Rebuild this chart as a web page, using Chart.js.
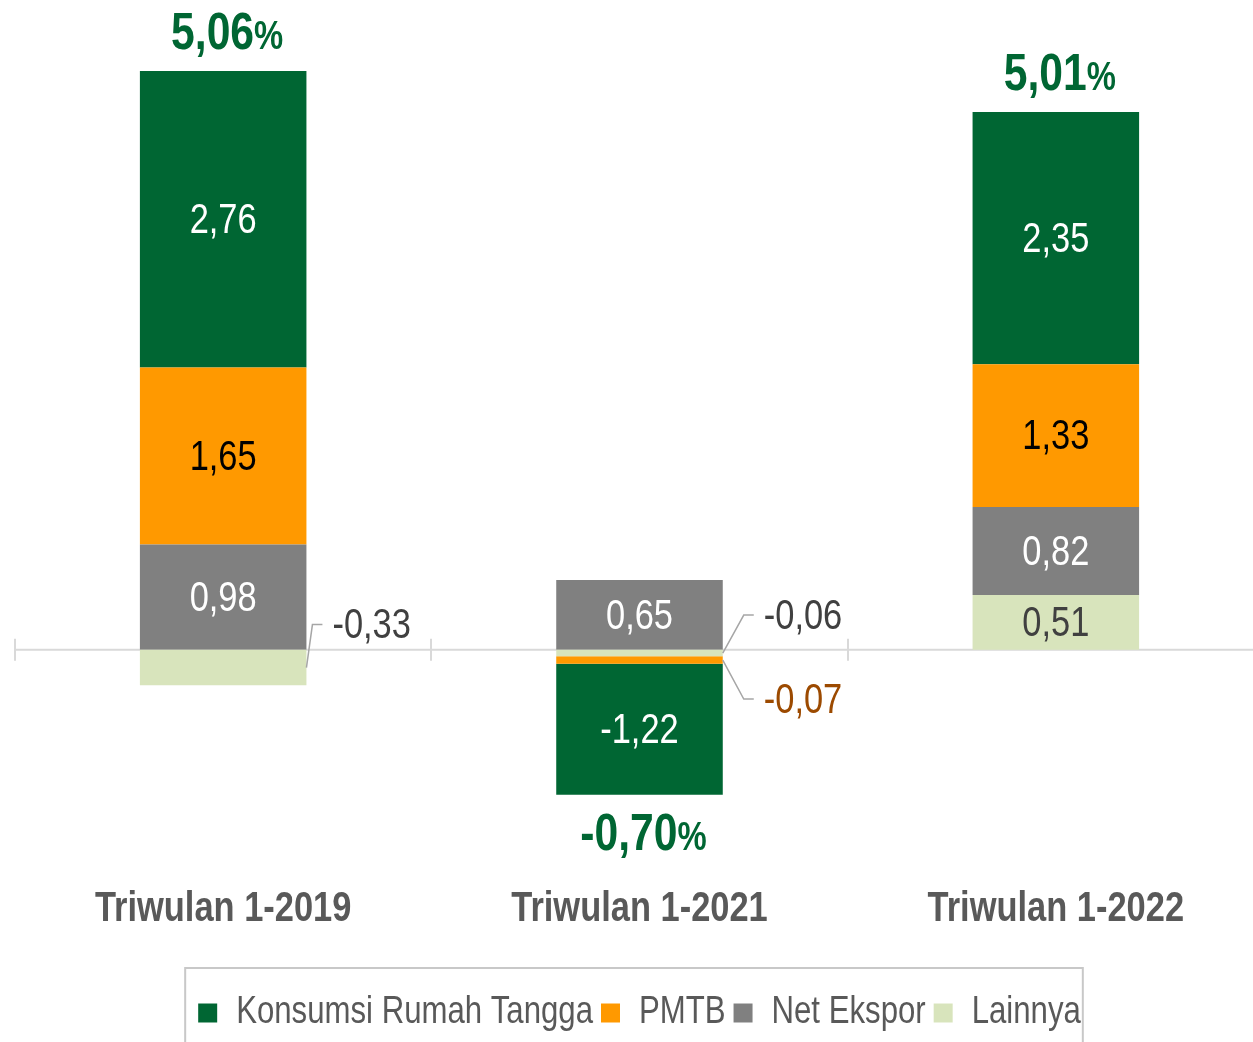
<!DOCTYPE html>
<html>
<head>
<meta charset="utf-8">
<script src="https://cdn.jsdelivr.net/npm/chart.js@4.4.1/dist/chart.umd.min.js"></script>
<style>
  html, body { margin: 0; padding: 0; background: #fff; }
  #wrap { width: 1253px; height: 1042px; overflow: hidden; position: relative; }
  #box { width: 1280px; height: 1042px; position: absolute; left: 0; top: 0; }
</style>
</head>
<body>
<div id="wrap"><div id="box"><canvas id="myChart"></canvas></div></div>
<script>
// no hay Arial Narrow instalada: se simula comprimiendo Liberation Sans
const NARROW = "Liberation Sans Narrow";
const FONT = "'" + NARROW + "', 'Liberation Sans', Arial, sans-serif";
const ANGOSTO = 0.82;

// datos
const periodos = ["Triwulan 1-2019", "Triwulan 1-2021", "Triwulan 1-2022"];
const lainnya = [-0.33, -0.06, 0.51];
const netEkspor = [0.98, 0.65, 0.82];
const pmtb = [1.65, -0.07, 1.33];
const konsumsi = [2.76, -1.22, 2.35];
const totales = [5.06, -0.70, 5.01];

const proto = CanvasRenderingContext2D.prototype;
const fillOrig = proto.fillText;
const measureOrig = proto.measureText;
proto.fillText = function (t, x, y) {
  if (!this.font.includes(NARROW)) return fillOrig.apply(this, arguments);
  this.save();
  this.translate(x, y);
  this.scale(ANGOSTO, 1);
  fillOrig.call(this, t, 0, 0);
  this.restore();
};
proto.measureText = function (t) {
  const m = measureOrig.call(this, t);
  if (!this.font.includes(NARROW)) return m;
  return {
    width: m.width * ANGOSTO,
    actualBoundingBoxAscent: m.actualBoundingBoxAscent,
    actualBoundingBoxDescent: m.actualBoundingBoxDescent,
    actualBoundingBoxLeft: m.actualBoundingBoxLeft * ANGOSTO,
    actualBoundingBoxRight: m.actualBoundingBoxRight * ANGOSTO,
  };
};

const ctx = document.getElementById("myChart");

const fmt = (v) => v.toFixed(2).replace(".", ",");

// etiquetas con linea guia (desplazamiento del texto respecto al borde de la barra)
const guias = {
  "0:0": [26, -43],
  "0:1": [41, -38],
  "2:1": [41, 39],
};

const ejeCero = {
  id: "ejeCero",
  beforeDatasetsDraw(chart) {
    const { ctx, chartArea, scales } = chart;
    const y0 = scales.y.getPixelForValue(0);
    ctx.save();
    ctx.strokeStyle = "#d9d9d9";
    ctx.lineWidth = 2;
    ctx.beginPath();
    ctx.moveTo(chartArea.left, y0);
    ctx.lineTo(chartArea.right, y0);
    const n = chart.data.labels.length;
    const w = (chartArea.right - chartArea.left) / n;
    for (let i = 0; i <= n; i++) {
      const x = Math.round(scales.x.getPixelForValue(0) - w / 2 + i * w);
      ctx.moveTo(x, y0 - 11);
      ctx.lineTo(x, y0 + 11);
    }
    ctx.stroke();
    ctx.restore();
  },
};

const etiquetas = {
  id: "etiquetas",
  afterDatasetsDraw(chart) {
    const ctx = chart.ctx;
    ctx.save();
    ctx.textBaseline = "middle";
    chart.data.datasets.forEach((ds, di) => {
      const meta = chart.getDatasetMeta(di);
      meta.data.forEach((bar, i) => {
        const v = ds.data[i];
        const midY = (bar.y + bar.base) / 2;
        const g = guias[di + ":" + i];
        ctx.font = "42px " + FONT;
        if (!g) {
          ctx.textAlign = "center";
          ctx.fillStyle = ds.labelColor;
          ctx.fillText(fmt(v), bar.x, midY + 2);
        } else {
          const right = bar.x + bar.width / 2;
          const tx = right + g[0];
          const ty = midY + g[1];
          ctx.strokeStyle = "#a6a6a6";
          ctx.lineWidth = 1.5;
          ctx.beginPath();
          ctx.moveTo(right, midY);
          ctx.lineTo(tx - 20, ty);
          ctx.lineTo(tx - 10, ty);
          ctx.stroke();
          ctx.textAlign = "left";
          ctx.fillStyle = ds.guideColor;
          ctx.fillText(fmt(v), tx, ty + 2);
        }
      });
    });

    // totales
    const n = chart.data.labels.length;
    ctx.textAlign = "left";
    ctx.textBaseline = "alphabetic";
    ctx.fillStyle = "#006633";
    for (let i = 0; i < n; i++) {
      let top = Infinity, bottom = -Infinity, x = 0;
      chart.data.datasets.forEach((ds, di) => {
        const bar = chart.getDatasetMeta(di).data[i];
        top = Math.min(top, bar.y, bar.base);
        bottom = Math.max(bottom, bar.y, bar.base);
        x = bar.x;
      });
      const t = totales[i];
      const y = t >= 0 ? top - 40 : bottom + 37;
      const a = fmt(t);
      ctx.font = "bold 52px " + FONT;
      const wa = ctx.measureText(a).width;
      ctx.font = "bold 40px " + FONT;
      const wb = ctx.measureText("%").width;
      const x0 = x + 4 - (wa + wb) / 2;
      ctx.font = "bold 52px " + FONT;
      ctx.fillText(a, x0, y + 18);
      ctx.font = "bold 40px " + FONT;
      ctx.fillText("%", x0 + wa, y + 18);
    }
    ctx.restore();
  },
  afterDraw(chart) {
    const lg = chart.legend;
    if (!lg || !lg.legendHitBoxes.length) return;
    const hb = lg.legendHitBoxes;
    const left = hb[0].left - 13;
    const last = hb[hb.length - 1];
    const right = last.left + last.width + 2;
    const ctx = chart.ctx;
    ctx.save();
    ctx.strokeStyle = "#c8c8c8";
    ctx.lineWidth = 2;
    ctx.strokeRect(left, 968, right - left, 120);
    ctx.restore();
  },
};

new Chart(ctx, {
  type: "bar",
  data: {
    labels: periodos,
    datasets: [
      { label: "Lainnya", data: lainnya, backgroundColor: "#d8e4bc", labelColor: "#404040", guideColor: "#404040" },
      { label: "Net Ekspor", data: netEkspor, backgroundColor: "#808080", labelColor: "#ffffff", guideColor: "#404040" },
      { label: "PMTB", data: pmtb, backgroundColor: "#ff9900", labelColor: "#000000", guideColor: "#9c4a00" },
      { label: "Konsumsi Rumah Tangga", data: konsumsi, backgroundColor: "#006633", labelColor: "#ffffff", guideColor: "#404040" },
    ],
  },
  options: {
    responsive: true,
    maintainAspectRatio: false,
    animation: false,
    layout: { padding: { left: 15, right: 16, top: 5.6, bottom: 0 } },
    datasets: { bar: { categoryPercentage: 1, barPercentage: 0.4, borderWidth: 0 } },
    scales: {
      x: {
        stacked: true,
        border: { display: false },
        grid: { display: false, drawTicks: false },
        ticks: { padding: 20, color: "#595959", font: { family: FONT, size: 42, weight: "bold" } },
        afterFit: (scale) => { scale.height += 31; },
      },
      y: { stacked: true, display: false, min: -2, max: 6 },
    },
    plugins: {
      tooltip: { enabled: false },
      legend: {
        position: "bottom",
        reverse: true,
        labels: {
          boxWidth: 19,
          boxHeight: 19,
          padding: 8,
          color: "#595959",
          font: { family: FONT, size: 38 },
        },
      },
    },
  },
  plugins: [ejeCero, etiquetas],
});
</script>
</body>
</html>
